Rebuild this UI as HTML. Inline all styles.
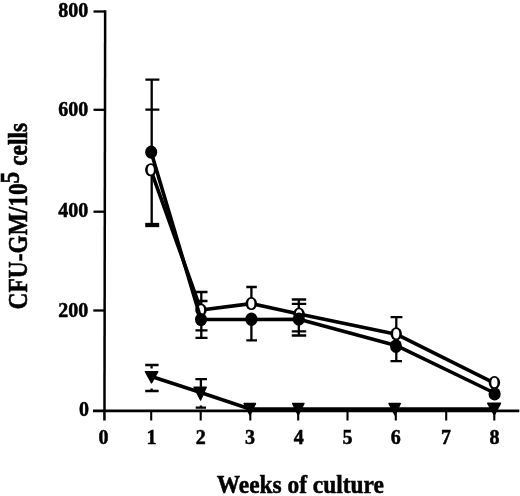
<!DOCTYPE html>
<html><head><meta charset="utf-8">
<style>
html,body{margin:0;padding:0;background:#fff;}
svg{display:block;}
text{font-family:"Liberation Serif","DejaVu Serif",serif;font-weight:bold;fill:#000;stroke:#000;stroke-width:0.5;}
</style></head>
<body>
<svg width="520" height="496" viewBox="0 0 520 496">
<rect width="520" height="496" fill="#fff"/>
<!-- axes -->
<g stroke="#000" fill="none" stroke-linecap="butt">
<line x1="105.15" y1="10.3" x2="104.45" y2="420.5" stroke-width="2.5"/>
<line x1="93" y1="410.8" x2="519.3" y2="410.8" stroke-width="2.8"/>
<!-- y ticks -->
<g stroke-width="2.3">
<line x1="93.5" y1="11.5" x2="105" y2="11.5"/>
<line x1="93.5" y1="109.8" x2="105" y2="109.8"/>
<line x1="93.5" y1="211.7" x2="105" y2="211.7"/>
<line x1="93.3" y1="310.5" x2="105" y2="310.5"/>
</g>
<!-- x ticks -->
<g stroke-width="2.1">
<line x1="151.2" y1="410" x2="151.2" y2="420.5"/>
<line x1="200.7" y1="410" x2="200.7" y2="420.5"/>
<line x1="250.3" y1="410" x2="250.3" y2="420.5"/>
<line x1="298.2" y1="410" x2="298.2" y2="420.5"/>
<line x1="347.5" y1="410" x2="347.5" y2="420.5"/>
<line x1="395.8" y1="410" x2="395.8" y2="420.5"/>
<line x1="446.2" y1="410" x2="446.2" y2="420.5"/>
<line x1="494.3" y1="410" x2="494.3" y2="420.5"/>
</g>
</g>
<!-- error bars -->
<g stroke="#000" stroke-width="2.3" fill="none">
<path d="M151.7 79.7V150 M151.7 172V224 M145.4 79.7H159.4 M145.4 109.6H159.4"/>
<path d="M145.2 225H159.2" stroke-width="4.3"/>
<path d="M201.3 292V337.8 M195.5 292H207.5 M195.5 301H207.5 M195.5 330.4H207.5 M195.5 337.8H207.5"/>
<path d="M251.4 287V300 M251.4 322V340.4 M246.3 287H256.8 M246.3 340.4H257"/>
<path d="M298.8 299.5V335.5 M291.8 299.5H306.2 M291.8 303.8H306.2 M291.8 331.3H306.2 M291.8 335.5H306.2"/>
<path d="M396.3 317.1V330 M396.3 348V361.2 M390.6 317.1H402.4 M390.5 361.2H402"/>
<path d="M151.6 365V368.5 M151.6 388.5V391 M145.2 365H158.6 M145.2 391H158.6"/>
<path d="M200.9 379.2V387 M200.9 405.5V408 M195.4 379.2H207 M195.7 407.6H206"/>
</g>
<!-- open series -->
<g stroke="#000" stroke-width="3.6" fill="none" stroke-linejoin="round">
<polyline points="150.8,169.8 201,310 251.3,303.6 299,314 396.2,334.2 494.4,383.1"/>
</g>
<g stroke="none">
<ellipse cx="150.8" cy="169.8" rx="5.75" ry="6.5" fill="#000"/><ellipse cx="150.8" cy="169.8" rx="3.1" ry="4.8" fill="#fff"/>
<ellipse cx="201" cy="310" rx="5.75" ry="6.5" fill="#000"/><ellipse cx="201" cy="310" rx="3.1" ry="4.8" fill="#fff"/>
<ellipse cx="251.3" cy="303.6" rx="5.75" ry="6.5" fill="#000"/><ellipse cx="251.3" cy="303.6" rx="3.1" ry="4.8" fill="#fff"/>
<ellipse cx="299" cy="314" rx="5.75" ry="6.5" fill="#000"/><ellipse cx="299" cy="314" rx="3.1" ry="4.8" fill="#fff"/>
<ellipse cx="396.2" cy="333.8" rx="5.75" ry="6.5" fill="#000"/><ellipse cx="396.2" cy="333.8" rx="3.1" ry="4.8" fill="#fff"/>
<ellipse cx="494.4" cy="382.6" rx="5.75" ry="6.5" fill="#000"/><ellipse cx="494.4" cy="382.6" rx="3.1" ry="4.8" fill="#fff"/>
</g>
<!-- filled series -->
<g stroke="#000" stroke-width="3.6" fill="none" stroke-linejoin="round">
<polyline points="151.2,152.2 201,319.5 251,319.5 299,319.2 396,345.4 494.5,393"/>
</g>
<g fill="#000" stroke="none">
<ellipse cx="151.2" cy="152.2" rx="6" ry="6.6"/>
<ellipse cx="201" cy="319.5" rx="6" ry="6.6"/>
<ellipse cx="251.4" cy="319.3" rx="6.1" ry="6.7"/>
<ellipse cx="298.8" cy="319.2" rx="6" ry="6.6"/>
<ellipse cx="396" cy="346.1" rx="6" ry="6.9"/>
<ellipse cx="494.6" cy="393.9" rx="6.1" ry="6.6"/>
</g>
<!-- triangle series -->
<g stroke="#000" stroke-width="3.6" fill="none" stroke-linejoin="round">
<polyline points="151.5,376.5 200.6,392.5 250,409 494.5,409"/>
</g>
<g fill="#000" stroke="#000" stroke-width="1.4" stroke-linejoin="round">
<path d="M145.4 371.7H157.8L151.5 382.8Z"/>
<path d="M194 387.2H206.2L200.6 400Z"/>
<path d="M244.1 403.5H255.5L249.9 415Z"/>
<path d="M292.6 403.5H304L298.2 415Z"/>
<path d="M388.9 403.5H400.3L395 415Z"/>
<path d="M487.7 403.3H500.5L494.3 415Z"/>
</g>
<!-- tick labels -->
<g font-size="20" text-anchor="end">
<text x="88.3" y="17.1">800</text>
<text x="88.3" y="116.3">600</text>
<text x="88.3" y="217">400</text>
<text x="88.3" y="316.9">200</text>
<text x="88.9" y="415.9">0</text>
</g>
<g font-size="20" text-anchor="middle">
<text x="103.5" y="444">0</text>
<text x="151.5" y="444">1</text>
<text x="200.8" y="444">2</text>
<text x="250" y="444">3</text>
<text x="298.8" y="444">4</text>
<text x="347.5" y="444">5</text>
<text x="395.8" y="444">6</text>
<text x="446" y="444">7</text>
<text x="494.5" y="444">8</text>
</g>
<!-- axis titles -->
<g transform="translate(300.3 492.7) scale(1 1.05)">
<text x="0" y="0" font-size="23.4" text-anchor="middle">Weeks of culture</text>
</g>
<g transform="translate(27.3 309.4) rotate(-90) scale(1 1.17)">
<text x="0" y="0" font-size="23.4">CFU-GM/10<tspan dy="-7.2">5</tspan><tspan dy="7.2"> cells</tspan></text>
</g>
</svg>
</body></html>
